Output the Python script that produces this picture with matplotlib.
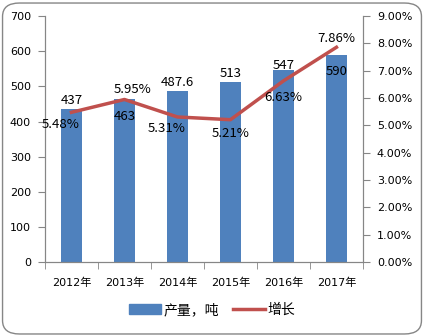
import matplotlib
matplotlib.use("Agg")
import matplotlib.pyplot as plt
from matplotlib.patches import FancyBboxPatch
from matplotlib.lines import Line2D
from matplotlib.patches import Patch
from matplotlib.ticker import FuncFormatter, MultipleLocator

plt.rcParams['font.family'] = ['Noto Sans CJK SC', 'DejaVu Sans']

years = ["2012年", "2013年", "2014年", "2015年", "2016年", "2017年"]
output = [437, 463, 487.6, 513, 547, 590]
growth = [5.48, 5.95, 5.31, 5.21, 6.63, 7.86]
output_labels = ["437", "463", "487.6", "513", "547", "590"]
growth_labels = ["5.48%", "5.95%", "5.31%", "5.21%", "6.63%", "7.86%"]

# label offsets in points (dx, dy)
bar_offsets = [(0, 6), (0, -12), (0, 6), (0, 6), (0, 3), (0, -12)]
line_offsets = [(-8, -9), (6, 7), (-8, -8), (0, -10), (0, -12), (0, 6)]

blue = "#4F81BD"
red = "#C0504D"
grey = "#868686"
tick_font = ['DejaVu Sans', 'Noto Sans CJK SC']

fig = plt.figure(figsize=(4.24, 3.36), dpi=100)
ax = fig.add_axes([0.106, 0.220, 0.750, 0.732])
ax2 = ax.twinx()

x = list(range(len(years)))
ax.bar(x, output, width=0.41, color=blue, zorder=2)
ax.set_xlim(-0.5, len(years) - 0.5)
ax.set_ylim(0, 700)
ax.yaxis.set_major_locator(MultipleLocator(100))
ax.set_xticks(x)
ax.set_xticklabels(years)
ax.set_xticks([i - 0.5 for i in range(len(years) + 1)], minor=True)
ax.tick_params(axis='x', which='major', length=0, pad=11)
ax.tick_params(axis='x', which='minor', length=5, color=grey)
ax.tick_params(axis='y', length=5, color=grey, pad=5)

ax2.plot(x, growth, color=red, linewidth=2.5, zorder=3)
ax2.set_ylim(0, 9)
ax2.yaxis.set_major_locator(MultipleLocator(1))
ax2.yaxis.set_major_formatter(FuncFormatter(lambda v, p: "%.2f%%" % v))
ax2.tick_params(axis='y', length=5, color=grey, pad=5)

for lbl in ax.get_xticklabels() + ax.get_yticklabels() + ax2.get_yticklabels():
    lbl.set_family(tick_font)
    lbl.set_fontsize(8)

for a in (ax, ax2):
    a.spines['top'].set_visible(False)
    for s in ('left', 'right', 'bottom'):
        a.spines[s].set_color(grey)

for i, v in enumerate(output):
    ax.annotate(output_labels[i], (i, v), xytext=bar_offsets[i],
                textcoords='offset points', ha='center', va='center', fontsize=9.5)
for i, v in enumerate(growth):
    ax2.annotate(growth_labels[i], (i, v), xytext=line_offsets[i],
                 textcoords='offset points', ha='center', va='center', fontsize=9.5)

handles = [Patch(color=blue), Line2D([], [], color=red, linewidth=2.5)]
fig.legend(handles, ["产量，吨", "增长"], loc='center', bbox_to_anchor=(0.5, 0.077),
           ncol=2, frameon=False, fontsize=10, handlelength=2.3,
           columnspacing=1.0, handletextpad=0.2)

border = FancyBboxPatch((0.006, 0.006), 0.988, 0.985, boxstyle="round,pad=0,rounding_size=0.04",
                        transform=fig.transFigure, fill=False, edgecolor=grey, linewidth=1)
fig.patches.append(border)

fig.savefig("out.png", dpi=100)
